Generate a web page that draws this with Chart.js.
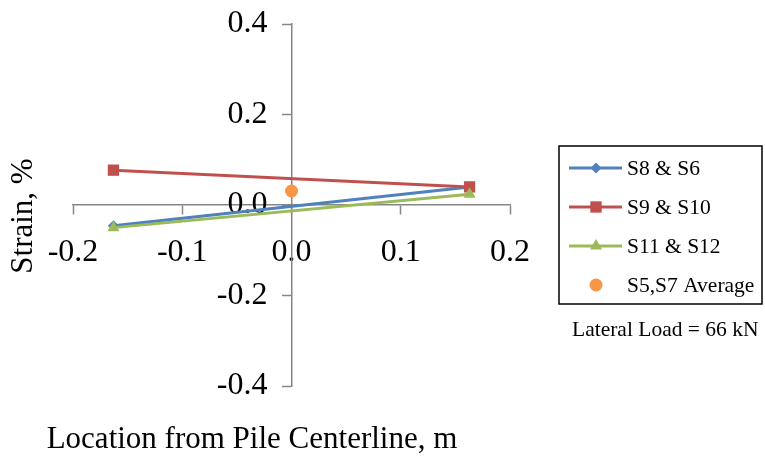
<!DOCTYPE html>
<html>
<head>
<meta charset="utf-8">
<script src="https://cdn.jsdelivr.net/npm/chart.js@4.4.0/dist/chart.umd.min.js"></script>
<style>
  html, body { margin: 0; padding: 0; background: #fff; }
  #chart { display: block; }
</style>
</head>
<body>
<canvas id="chart" width="765" height="458"></canvas>
<script>
// values (location in m, strain in %)
const locations = [-0.163, 0.163]
const s8_s6 = [-0.046, 0.040]
const s9_s10 = [0.077, 0.040]
const s11_s12 = [-0.050, 0.024]
const avg_location = [0.0]
const s5_s7_avg = [0.031]

const series_labels = ["S8 & S6", "S9 & S10", "S11 & S12", "S5,S7 Average"]
const x_title = "Location from Pile Centerline, m"
const y_title = "Strain, %"
const note_text = "Lateral Load = 66 kN"

const serif = "'Liberation Serif', 'Times New Roman', serif"
const axis_grey = "#868686"

function toPoints(xs, ys){
    return xs.map(function(x, i){ return {x: x, y: ys[i]} })
}

function tickLabel(value){
    if (Math.abs(value) < 1e-9) return "0.0"
    return value.toFixed(1)
}

// y labels sit right-aligned on the axis line when it is placed at x = 0,
// so pad them with spaces to push them off the line
function yTickLabel(value){
    return tickLabel(value) + "   "
}

// axis titles, legend box and note, drawn in the canvas after the chart
const extrasPlugin = {
    id: "extras",
    afterDraw(chart){
        const ctx = chart.ctx
        ctx.save()
        ctx.fillStyle = "#000"
        ctx.font = "31px " + serif
        ctx.textAlign = "center"
        ctx.textBaseline = "middle"
        ctx.fillText(x_title, 252, 440)

        ctx.save()
        ctx.translate(24, 216)
        ctx.rotate(-Math.PI / 2)
        ctx.fillText(y_title, 0, 0)
        ctx.restore()

        // legend
        ctx.strokeStyle = "#000"
        ctx.lineWidth = 1.5
        ctx.strokeRect(559, 146, 203, 158)

        const rows = [168, 207, 246, 285]
        chart.data.datasets.forEach(function(ds, i){
            const y = rows[i]
            if (ds.showLine){
                ctx.strokeStyle = ds.borderColor
                ctx.lineWidth = 3
                ctx.beginPath()
                ctx.moveTo(569, y)
                ctx.lineTo(622, y)
                ctx.stroke()
            }
            ctx.fillStyle = ds.pointBackgroundColor
            ctx.strokeStyle = ds.pointBorderColor
            Chart.helpers.drawPoint(ctx, {
                pointStyle: ds.pointStyle,
                radius: ds.pointRadius,
                rotation: 0,
                borderWidth: 0
            }, 596, y)
            ctx.fillStyle = "#000"
            ctx.font = "21.5px " + serif
            ctx.textAlign = "left"
            ctx.fillText(ds.label, 627, y + 1)
        })

        ctx.font = "21.5px " + serif
        ctx.textAlign = "left"
        ctx.fillText(note_text, 572, 330)
        ctx.restore()
    }
}

function lineSet(label, ys, color, style, radius, order){
    return {
        label: label,
        data: toPoints(locations, ys),
        showLine: true,
        borderColor: color,
        borderWidth: 3,
        backgroundColor: color,
        pointBackgroundColor: color,
        pointBorderColor: color,
        pointBorderWidth: 0,
        pointStyle: style,
        pointRadius: radius,
        order: order
    }
}

const datasets = [
    lineSet(series_labels[0], s8_s6, "#4F81BD", "rectRot", 5.5, 3),
    lineSet(series_labels[1], s9_s10, "#C0504D", "rect", 8, 2),
    lineSet(series_labels[2], s11_s12, "#9BBB59", "triangle", 7, 1),
    {
        label: series_labels[3],
        data: toPoints(avg_location, s5_s7_avg),
        showLine: false,
        backgroundColor: "#F79646",
        pointBackgroundColor: "#F79646",
        pointBorderColor: "#F79646",
        pointBorderWidth: 0,
        pointStyle: "circle",
        pointRadius: 6.5,
        order: 0
    }
]

function axisOptions(min, max, step, position, labelFn, padding, lineHeight){
    return {
        type: "linear",
        min: min,
        max: max,
        position: position,
        ticks: {
            stepSize: step,
            callback: labelFn,
            color: "#000",
            font: {family: serif, size: 32, lineHeight: lineHeight},
            padding: padding
        },
        grid: {
            drawOnChartArea: false,
            drawTicks: true,
            tickLength: 9,
            tickColor: axis_grey,
            tickWidth: 1.5
        },
        border: {color: axis_grey, width: 1.5}
    }
}

new Chart(document.getElementById("chart"), {
    type: "scatter",
    data: {datasets: datasets},
    options: {
        responsive: false,
        animation: false,
        layout: {padding: {left: 73, right: 255, top: 23, bottom: 72}},
        plugins: {
            legend: {display: false},
            tooltip: {enabled: false}
        },
        scales: {
            x: axisOptions(-0.2, 0.2, 0.1, {y: 0}, tickLabel, 19, 1.2),
            y: axisOptions(-0.4, 0.4, 0.2, {x: 0}, yTickLabel, 8, 1)
        }
    },
    plugins: [extrasPlugin]
})
</script>
</body>
</html>
